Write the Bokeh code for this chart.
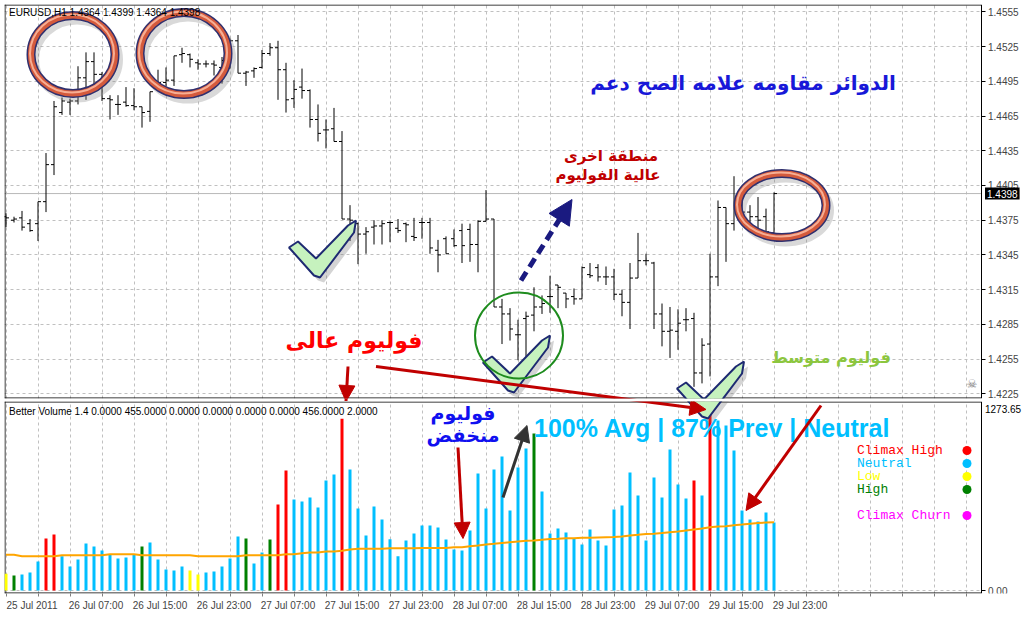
from bokeh.plotting import figure
from bokeh.layouts import column
from bokeh.models import Range1d, FixedTicker, Label, Arrow, NormalHead, PrintfTickFormatter, LinearAxis
from bokeh.embed import file_html
from bokeh.resources import INLINE

# ---------------- data ----------------
symbol_header = "EURUSD,H1 1.4364 1.4399 1.4364 1.4398"
indicator_header = "Better Volume 1.4 0.0000 455.0000 0.0000 0.0000 0.0000 0.0000 456.0000 2.0000"
time_labels = ["25 Jul 2011", "26 Jul 07:00", "26 Jul 15:00", "26 Jul 23:00", "27 Jul 07:00",
               "27 Jul 15:00", "27 Jul 23:00", "28 Jul 07:00", "28 Jul 15:00", "28 Jul 23:00",
               "29 Jul 07:00", "29 Jul 15:00", "29 Jul 23:00"]
price_tick_labels = ["1.4225", "1.4255", "1.4285", "1.4315", "1.4345", "1.4375",
                     "1.4405", "1.4435", "1.4465", "1.4495", "1.4525", "1.4555"]
current_price = 1.4398
volume_scale_max = 1273.65
volume_scale_min = 0.0

open_ = [1.4378, 1.4375, 1.4377, 1.4372, 1.4372, 1.4391, 1.4423, 1.4468, 1.4477, 1.4478,
         1.4498, 1.4512, 1.4501, 1.4480, 1.4475, 1.4477, 1.4474, 1.4473, 1.4469, 1.4490,
         1.4494, 1.4496, 1.4518, 1.4518, 1.4511, 1.4510, 1.4510, 1.4507, 1.4506, 1.4530,
         1.4502, 1.4504, 1.4507, 1.4519, 1.4524, 1.4505, 1.4480, 1.4490, 1.4487, 1.4462,
         1.4453, 1.4454, 1.4443, 1.4376, 1.4372, 1.4363, 1.4369, 1.4370, 1.4373, 1.4368,
         1.4372, 1.4361, 1.4373, 1.4373, 1.4349, 1.4359, 1.4359, 1.4366, 1.4367, 1.4354,
         1.4374, 1.4376, 1.4300, 1.4294, 1.4276, 1.4290, 1.4293, 1.4300, 1.4309, 1.4319,
         1.4312, 1.4309, 1.4307, 1.4328, 1.4334, 1.4326, 1.4326, 1.4311, 1.4304, 1.4325,
         1.4340, 1.4338, 1.4294, 1.4279, 1.4279, 1.4289, 1.4290, 1.4243, 1.4268, 1.4326,
         1.4386, 1.4372, 1.4381, 1.4382, 1.4378, 1.4378, 1.4364]
high = [1.4381, 1.4378, 1.4383, 1.4376, 1.4391, 1.4433, 1.4478, 1.4481, 1.4480, 1.4508,
        1.4520, 1.4520, 1.4503, 1.4483, 1.4483, 1.4490, 1.4489, 1.4473, 1.4486, 1.4505,
        1.4507, 1.4517, 1.4524, 1.4519, 1.4514, 1.4513, 1.4513, 1.4516, 1.4532, 1.4535,
        1.4504, 1.4507, 1.4522, 1.4528, 1.4530, 1.4511, 1.4496, 1.4506, 1.4488, 1.4475,
        1.4462, 1.4472, 1.4452, 1.4388, 1.4373, 1.4369, 1.4375, 1.4375, 1.4374, 1.4376,
        1.4373, 1.4377, 1.4377, 1.4377, 1.4358, 1.4361, 1.4367, 1.4372, 1.4372, 1.4375,
        1.4401, 1.4376, 1.4307, 1.4299, 1.4289, 1.4296, 1.4317, 1.4310, 1.4327, 1.4319,
        1.4312, 1.4316, 1.4335, 1.4338, 1.4337, 1.4335, 1.4333, 1.4315, 1.4338, 1.4364,
        1.4346, 1.4339, 1.4303, 1.4300, 1.4298, 1.4299, 1.4295, 1.4273, 1.4346, 1.4392,
        1.4386, 1.4413, 1.4392, 1.4388, 1.4395, 1.4385, 1.4399]
low = [1.4369, 1.4373, 1.4366, 1.4365, 1.4357, 1.4382, 1.4414, 1.4466, 1.4466, 1.4475,
       1.4479, 1.4490, 1.4478, 1.4462, 1.4466, 1.4473, 1.4470, 1.4455, 1.4460, 1.4488,
       1.4491, 1.4491, 1.4511, 1.4507, 1.4505, 1.4507, 1.4500, 1.4493, 1.4506, 1.4502,
       1.4491, 1.4498, 1.4506, 1.4517, 1.4479, 1.4468, 1.4472, 1.4480, 1.4455, 1.4443,
       1.4437, 1.4443, 1.4376, 1.4357, 1.4337, 1.4346, 1.4354, 1.4354, 1.4356, 1.4364,
       1.4356, 1.4357, 1.4359, 1.4346, 1.4330, 1.4346, 1.4352, 1.4338, 1.4339, 1.4330,
       1.4374, 1.4300, 1.4268, 1.4271, 1.4254, 1.4257, 1.4279, 1.4294, 1.4295, 1.4299,
       1.4299, 1.4302, 1.4307, 1.4325, 1.4322, 1.4319, 1.4306, 1.4292, 1.4281, 1.4325,
       1.4336, 1.4281, 1.4266, 1.4256, 1.4263, 1.4279, 1.4231, 1.4234, 1.4240, 1.4318,
       1.4339, 1.4366, 1.4378, 1.4369, 1.4365, 1.4364, 1.4364]
close = [1.4377, 1.4376, 1.4369, 1.4366, 1.4391, 1.4423, 1.4473, 1.4478, 1.4478, 1.4498,
         1.4512, 1.4501, 1.4480, 1.4479, 1.4475, 1.4474, 1.4473, 1.4468, 1.4486, 1.4494,
         1.4496, 1.4517, 1.4519, 1.4514, 1.4510, 1.4510, 1.4509, 1.4513, 1.4530, 1.4502,
         1.4503, 1.4506, 1.4519, 1.4524, 1.4505, 1.4479, 1.4488, 1.4487, 1.4462, 1.4450,
         1.4453, 1.4443, 1.4376, 1.4375, 1.4363, 1.4365, 1.4370, 1.4372, 1.4373, 1.4366,
         1.4371, 1.4360, 1.4373, 1.4351, 1.4345, 1.4346, 1.4353, 1.4353, 1.4354, 1.4374,
         1.4376, 1.4300, 1.4294, 1.4281, 1.4276, 1.4292, 1.4300, 1.4303, 1.4309, 1.4317,
         1.4307, 1.4307, 1.4334, 1.4327, 1.4326, 1.4326, 1.4311, 1.4304, 1.4325, 1.4340,
         1.4340, 1.4294, 1.4279, 1.4280, 1.4286, 1.4289, 1.4243, 1.4267, 1.4326, 1.4386,
         1.4372, 1.4385, 1.4382, 1.4378, 1.4375, 1.4365, 1.4398]

volume = [114, 102, 109, 123, 197, 354, 381, 234, 163, 211,
          320, 300, 272, 243, 218, 225, 245, 300, 327, 211,
          143, 136, 163, 136, 109, 123, 129, 163, 218, 368,
          354, 184, 259, 347, 586, 817, 620, 606, 633, 565,
          749, 790, 1169, 824, 558, 375, 572, 483, 349, 234,
          341, 388, 443, 443, 429, 347, 279, 272, 409, 797,
          558, 824, 912, 545, 838, 967, 1069, 674, 388, 422,
          395, 354, 313, 415, 341, 306, 552, 579, 804, 647,
          341, 770, 633, 960, 722, 626, 749, 647, 1273.65, 1158,
          1124, 953, 545, 483, 470, 531, 463]
vol_avg = [243, 243, 234, 234, 234, 234, 234, 240, 240, 240,
           240, 240, 240, 247, 247, 247, 247, 240, 240, 240,
           240, 240, 240, 240, 234, 234, 234, 234, 234, 234,
           240, 240, 240, 240, 240, 247, 247, 254, 259, 259,
           266, 266, 270, 279, 284, 284, 284, 284, 288, 288,
           288, 288, 290, 290, 290, 290, 295, 295, 302, 306,
           313, 318, 324, 329, 334, 338, 340, 345, 350, 352,
           356, 356, 359, 359, 361, 363, 365, 368, 375, 379,
           384, 386, 391, 397, 402, 409, 416, 422, 431, 436,
           438, 445, 449, 454, 459, 463, 465]
# L = low, H = high, N = neutral, C = climax high
vol_class = ("L" "H" "NNN" "CC" "NNNNNNNNNN" "H" "NNNNN" "LL" "NNNNN" "H" "NN" "H" "CC"
             "NNNNNN" "C" "NNNNNNNNNNNNNNNNNNNNNNN" "H" "NNNNNNNNNNNNNNNNNNN" "C" "N" "C" "NNNNNNNN")
class_colors = {"C": "#FF0000", "N": "#00BFFF", "L": "#FFFF00", "H": "#008000", "M": "#FF00FF"}
legend_names = ["Climax High", "Neutral", "Low", "High", "Climax Churn"]
legend_codes = ["C", "N", "L", "H", "M"]

N = min(len(open_), len(high), len(low), len(close), len(volume), len(vol_avg))
idx = list(range(N))
vc = (vol_class + "N" * 200)[:N]
bar_colors = [class_colors[c] for c in vc]

# target-pixel helpers used only for placing the hand-drawn annotations
def ax(px):
    return (px - 5.0) / 8.0

def ap(py):
    return 1.4225 + (393.3 - py) * 0.0000864

def av(py):
    return (590.0 - py) * 6.81

GRID = "#C0C0C0"
LBL_FONT = "Liberation Sans"
AR_FONT = "DejaVu Sans"
FRAME_W = 1020
xr = Range1d(-0.1875, -0.1875 + FRAME_W / 8.0)
AXIS_X = ax(980)

def style_common(fig):
    fig.xgrid.ticker = FixedTicker(ticks=list(range(0, 128, 4)))
    fig.xgrid.grid_line_color = GRID
    fig.xgrid.grid_line_dash = "3 3"

def price_axis_like(axis):
    axis.major_tick_out = 4
    axis.major_tick_in = 0
    axis.minor_tick_line_color = None
    axis.axis_line_color = "black"
    axis.major_label_text_font = LBL_FONT
    axis.major_label_text_font_size = "10px"
    axis.major_label_standoff = 3

# ---------------- main price panel ----------------
main = figure(frame_width=FRAME_W, frame_height=394, x_range=xr, y_range=Range1d(ap(398), ap(4)),
              output_backend="svg", toolbar_location=None, x_axis_location=None,
              y_axis_location=None, min_border_left=4, min_border_top=4,
              min_border_bottom=3, min_border_right=0,
              background_fill_color="white", border_fill_color="white",
              outline_line_color=None)
price_ticks = [float(s) for s in price_tick_labels]
style_common(main)
main.ygrid.ticker = FixedTicker(ticks=price_ticks)
main.ygrid.grid_line_color = GRID
main.ygrid.grid_line_dash = "3 3"

yax = LinearAxis(fixed_location=AXIS_X, ticker=FixedTicker(ticks=price_ticks, minor_ticks=[]),
                 formatter=PrintfTickFormatter(format="%.4f"))
price_axis_like(yax)
main.add_layout(yax, "right")

main.segment(x0=[xr.start], y0=[current_price], x1=[AXIS_X], y1=[current_price],
             line_color="#B8B8B8", line_width=1)
main.quad(left=[AXIS_X], right=[xr.end], bottom=[main.y_range.start], top=[main.y_range.end],
          fill_color="white", line_color=None)
main.segment(x0=[xr.start, xr.start, ax(4)], y0=[ap(4.5), ap(397.5), ap(398)],
             x1=[AXIS_X, AXIS_X, ax(4)], y1=[ap(4.5), ap(397.5), ap(4)],
             line_color="black", line_width=1)

# OHLC bars
main.segment(x0=idx, y0=low[:N], x1=idx, y1=high[:N], line_color="black", line_width=1)
main.segment(x0=[i - 0.375 for i in idx], y0=open_[:N], x1=idx, y1=open_[:N], line_color="black", line_width=1)
main.segment(x0=idx, y0=close[:N], x1=[i + 0.375 for i in idx], y1=close[:N], line_color="black", line_width=1)

main.add_layout(Label(x=AXIS_X, y=current_price, x_offset=4, text=f"{current_price:.4f}",
                      text_font=LBL_FONT, text_font_size="10px", text_color="white",
                      background_fill_color="black", padding=2,
                      text_baseline="middle", text_align="left"))
main.add_layout(Label(x=ax(8), y=ap(12), text=symbol_header, text_font=LBL_FONT,
                      text_font_size="10px", text_color="black", text_baseline="middle", text_align="left"))

# rings
rings = [(72, 54, 84, 78), (183, 53, 88, 82), (781, 205, 88, 64)]
for cx, cy, w, h in rings:
    main.ellipse(x=ax(cx + 4), y=ap(cy + 5), width=w, height=h, width_units="screen", height_units="screen",
                 fill_color=None, line_color="#808080", line_alpha=0.3, line_width=8)
    main.ellipse(x=ax(cx), y=ap(cy), width=w, height=h, width_units="screen", height_units="screen",
                 fill_color=None, line_color="#30306E", line_width=9)
    main.ellipse(x=ax(cx), y=ap(cy), width=w, height=h, width_units="screen", height_units="screen",
                 fill_color=None, line_color="#D45A3C", line_width=6)
    main.ellipse(x=ax(cx - 1), y=ap(cy - 1), width=w, height=h, width_units="screen", height_units="screen",
                 fill_color=None, line_color="#F6AE94", line_width=2)

# check marks
check_tpl = [(-30, -30), (-21, -36), (-3, -19), (29, -52), (37, -57), (35, -45), (1, 0), (-5, -2)]

def draw_check(fig, bxp, byp, yconv):
    fig.patch([ax(bxp + dx + 4) for dx, dy in check_tpl], [yconv(byp + dy + 5) for dx, dy in check_tpl],
              fill_color="#707070", fill_alpha=0.3, line_color=None)
    fig.patch([ax(bxp + dx) for dx, dy in check_tpl], [yconv(byp + dy) for dx, dy in check_tpl],
              fill_color="#C6F2BE", line_color="#1E2A72", line_width=2)

draw_check(main, 318, 277, ap)
draw_check(main, 512, 392, ap)
draw_check(main, 706, 418, ap)

main.ellipse(x=ax(518), y=ap(335), width=88, height=86, width_units="screen", height_units="screen",
             fill_color=None, line_color="#1E8C1E", line_width=2)

main.add_layout(Arrow(end=NormalHead(size=24, fill_color="#1A1A80", line_color="#1A1A80"),
                      x_start=ax(520), y_start=ap(280), x_end=ax(571), y_end=ap(199),
                      line_color="#1A1A80", line_width=5, line_dash="10 6"))
main.add_layout(Arrow(end=None, x_start=ax(375), y_start=ap(366), x_end=ax(705), y_end=ap(409),
                      line_color="#C00000", line_width=3))
main.add_layout(Arrow(end=NormalHead(size=16, fill_color="#C00000", line_color="#C00000"),
                      x_start=ax(347), y_start=ap(366), x_end=ax(345), y_end=ap(401),
                      line_color="#C00000", line_width=3))

main.add_layout(Label(x=ax(742), y=ap(82), text="الدوائر مقاومه علامه الصح دعم", text_font=AR_FONT,
                      text_font_style="bold", text_font_size="20px", text_color="#1818D8",
                      text_align="center", text_baseline="middle"))
main.add_layout(Label(x=ax(610), y=ap(155), text="منطقة اخرى", text_font=AR_FONT,
                      text_font_style="bold", text_font_size="15px", text_color="#C00000",
                      text_align="center", text_baseline="middle"))
main.add_layout(Label(x=ax(607), y=ap(174), text="عالية الفوليوم", text_font=AR_FONT,
                      text_font_style="bold", text_font_size="15px", text_color="#C00000",
                      text_align="center", text_baseline="middle"))
main.add_layout(Label(x=ax(353), y=ap(340), text="فوليوم عالى", text_font=AR_FONT,
                      text_font_style="bold", text_font_size="22px", text_color="#FF0000",
                      text_align="center", text_baseline="middle"))
main.add_layout(Label(x=ax(830), y=ap(357), text="فوليوم متوسط", text_font=AR_FONT,
                      text_font_style="bold", text_font_size="16px", text_color="#8CC63F",
                      text_align="center", text_baseline="middle"))
main.add_layout(Label(x=ax(971), y=ap(383), text="☠", text_font=AR_FONT, text_font_size="12px",
                      text_color="#808080", text_align="center", text_baseline="middle"))

# ---------------- volume panel ----------------
vol = figure(frame_width=FRAME_W, frame_height=192, x_range=xr, y_range=Range1d(av(593), av(401)),
             output_backend="svg", toolbar_location=None, x_axis_location="below",
             y_axis_location=None, min_border_left=4, min_border_top=0,
             min_border_bottom=23, min_border_right=0,
             background_fill_color="white", border_fill_color="white",
             outline_line_color=None)
style_common(vol)
vol.ygrid.ticker = FixedTicker(ticks=[volume_scale_min])
vol.ygrid.grid_line_color = GRID
vol.ygrid.grid_line_dash = "3 3"

vyax = LinearAxis(fixed_location=AXIS_X, ticker=FixedTicker(ticks=[volume_scale_min], minor_ticks=[]),
                  formatter=PrintfTickFormatter(format="%.2f"))
price_axis_like(vyax)
vol.add_layout(vyax, "right")

# small tick marks every 4 bars (as minor ticks, so no empty labels)
vol.xaxis.ticker = FixedTicker(ticks=[], minor_ticks=list(range(0, 121, 4)))
vol.xaxis.major_label_standoff = 0
vol.xaxis.major_tick_out = 3
vol.xaxis.major_tick_in = 0
vol.xaxis.minor_tick_out = 3
vol.xaxis.minor_tick_in = 0
vol.xaxis.minor_tick_line_color = "#808080"
vol.xaxis.axis_line_color = None

# date labels, left-aligned from each 8-bar position like MT4
label_shift = 3.25
label_ticks = [8 * k + label_shift for k in range(len(time_labels))]
dax = LinearAxis(ticker=FixedTicker(ticks=label_ticks, minor_ticks=[]),
                 major_label_overrides={t: s for t, s in zip(label_ticks, time_labels)})
dax.major_tick_line_color = None
dax.major_tick_out = 0
dax.major_tick_in = 0
dax.minor_tick_line_color = None
dax.axis_line_color = None
dax.major_label_text_font = LBL_FONT
dax.major_label_text_font_size = "10px"
dax.major_label_standoff = 3
vol.add_layout(dax, "below")

vol.quad(left=[AXIS_X], right=[xr.end], bottom=[vol.y_range.start], top=[vol.y_range.end],
         fill_color="white", line_color=None)
vol.segment(x0=[xr.start, xr.start, ax(4)], y0=[av(401.5), av(592.5), av(593)],
            x1=[AXIS_X, AXIS_X, ax(4)], y1=[av(401.5), av(592.5), av(401)],
            line_color="black", line_width=1)

vol.vbar(x=idx, top=volume[:N], bottom=0, width=0.375, fill_color=bar_colors, line_color=None)
vol.line(idx, vol_avg[:N], line_color="#FFA500", line_width=2)

vol.add_layout(Label(x=AXIS_X, y=volume_scale_max, x_offset=4, y_offset=-2, text=f"{volume_scale_max:.2f}",
                     text_font=LBL_FONT, text_font_size="10px", text_color="black",
                     text_baseline="top", text_align="left"))
vol.add_layout(Label(x=ax(8), y=av(411), text=indicator_header, text_font=LBL_FONT,
                     text_font_size="10px", text_color="black", text_baseline="middle", text_align="left"))
vol.add_layout(Label(x=ax(533), y=av(427), text="100% Avg | 87% Prev | Neutral", text_font=LBL_FONT,
                     text_font_style="bold", text_font_size="25px", text_color="#00BFFF",
                     text_baseline="middle", text_align="left"))

legend_y = [450, 463, 476, 489, 515]
for name, code, ly in zip(legend_names, legend_codes, legend_y):
    vol.add_layout(Label(x=ax(856), y=av(ly), text=name, text_font="Liberation Mono",
                         text_font_size="13px", text_color=class_colors[code],
                         text_baseline="middle", text_align="left"))
vol.scatter(x=[ax(966)] * len(legend_y), y=[av(ly) for ly in legend_y], size=9,
            fill_color=[class_colors[c] for c in legend_codes], line_color=None)

draw_check(vol, 706, 418, av)

vol.add_layout(Arrow(end=NormalHead(size=16, fill_color="#C00000", line_color="#C00000"),
                     x_start=ax(375), y_start=av(366), x_end=ax(705), y_end=av(409),
                     line_color="#C00000", line_width=3))
vol.add_layout(Arrow(end=NormalHead(size=16, fill_color="#C00000", line_color="#C00000"),
                     x_start=ax(457), y_start=av(447), x_end=ax(462), y_end=av(538),
                     line_color="#C00000", line_width=3))
vol.add_layout(Arrow(end=NormalHead(size=16, fill_color="#333333", line_color="#333333"),
                     x_start=ax(502), y_start=av(497), x_end=ax(526), y_end=av(425),
                     line_color="#333333", line_width=3))
vol.add_layout(Arrow(end=NormalHead(size=16, fill_color="#C00000", line_color="#C00000"),
                     x_start=ax(820), y_start=av(405), x_end=ax(745), y_end=av(510),
                     line_color="#C00000", line_width=3))

vol.add_layout(Label(x=ax(462), y=av(412), text="فوليوم", text_font=AR_FONT,
                     text_font_style="bold", text_font_size="19px", text_color="#1010F0",
                     text_align="center", text_baseline="middle"))
vol.add_layout(Label(x=ax(462), y=av(434), text="منخفض", text_font=AR_FONT,
                     text_font_style="bold", text_font_size="19px", text_color="#1010F0",
                     text_align="center", text_baseline="middle"))

layout = column(main, vol, spacing=0)
open("out.html", "w").write(file_html(layout, INLINE))
